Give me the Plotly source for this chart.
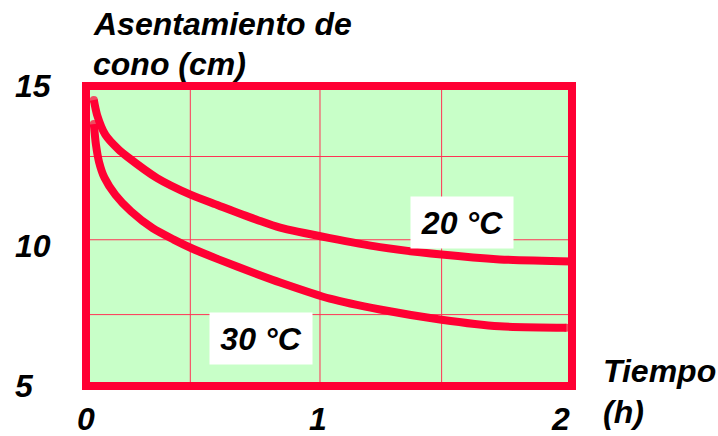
import plotly.graph_objects as go

# ---- data ----
t20 = [0.033, 0.047, 0.082, 0.138, 0.173, 0.300, 0.443, 0.559, 0.728, 0.819, 1.029, 1.240, 1.500, 1.745, 2.053]
s20 = [14.53, 14.03, 13.37, 12.88, 12.65, 11.93, 11.37, 11.02, 10.52, 10.28, 9.93, 9.63, 9.38, 9.22, 9.15]
t30 = [0.033, 0.042, 0.055, 0.078, 0.124, 0.190, 0.281, 0.370, 0.443, 0.559, 0.728, 0.819, 1.029, 1.240, 1.500, 1.745, 2.026]
s30 = [13.73, 13.04, 12.47, 11.94, 11.37, 10.82, 10.26, 9.88, 9.60, 9.22, 8.71, 8.45, 7.91, 7.55, 7.21, 6.99, 6.94]
x_ticks = [0, 1, 2]
y_ticks = [15, 10, 5]
grid_x = [0.44, 0.987, 1.50]
grid_y = [12.65, 9.875, 7.38]
series_labels = ["20 °C", "30 °C"]
label_pos = [(1.585, 10.46), (0.737, 6.58)]
y_title = ["Asentamiento de", "cono (cm)"]
x_title = ["Tiempo", "(h)"]

RED = "#ff0033"
GRID = "#ff3355"
GREEN = "#c8ffc8"
FONT = dict(family="Liberation Sans, Arial, sans-serif", size=32, color="black",
            weight="bold", style="italic")

fig = go.Figure()
for t, s in [(t20, s20), (t30, s30)]:
    sizes = [8] + [0] * (len(t) - 2) + [8]
    fig.add_trace(go.Scatter(x=t, y=s, mode="lines+markers",
                             line=dict(color=RED, width=8, shape="spline", smoothing=0.7),
                             marker=dict(color=RED, size=sizes, line=dict(width=0)),
                             cliponaxis=False, showlegend=False, hoverinfo="skip"))

shapes = []
for gx in grid_x:
    shapes.append(dict(type="line", xref="x", yref="paper", x0=gx, x1=gx, y0=0, y1=1,
                       line=dict(color=GRID, width=1), layer="below"))
for gy in grid_y:
    shapes.append(dict(type="line", xref="paper", yref="y", x0=0, x1=1, y0=gy, y1=gy,
                       line=dict(color=GRID, width=1), layer="below"))
shapes.append(dict(type="rect", xref="paper", yref="paper", x0=0, x1=1, y0=0, y1=1,
                   line=dict(color=RED, width=8), layer="below"))

ann = []
for (lx, ly), txt in zip(label_pos, series_labels):
    ann.append(dict(x=lx, y=ly, xref="x", yref="y", text=txt, showarrow=False, font=FONT,
                    bgcolor="white", width=102, height=51, borderpad=0, align="center"))
xshift_ticks = [0, -5, 0]
for v, sh in zip(x_ticks, xshift_ticks):
    ann.append(dict(x=v, y=-0.111, xref="x", yref="paper", text=str(v), showarrow=False,
                    font=FONT, xanchor="center", yanchor="middle", xshift=sh))
yshift_ticks = [0, -10, 0]
for v, sh in zip(y_ticks, yshift_ticks):
    ann.append(dict(x=-0.151, y=v, xref="paper", yref="y", text=str(v), showarrow=False,
                    font=FONT, xanchor="left", yanchor="middle", yshift=sh))
for txt, yp in zip(y_title, [1.206, 1.073]):
    ann.append(dict(x=0.0113, y=yp, xref="paper", yref="paper", text=txt, showarrow=False,
                    font=FONT, xanchor="left", yanchor="middle"))
for txt, yp in zip(x_title, [0.0516, -0.085]):
    ann.append(dict(x=1.0606, y=yp, xref="paper", yref="paper", text=txt, showarrow=False,
                    font=FONT, xanchor="left", yanchor="middle"))

fig.update_layout(
    width=718, height=436,
    margin=dict(l=85.5, r=145.5, t=86, b=49.5, pad=0),
    paper_bgcolor="white", plot_bgcolor=GREEN,
    xaxis=dict(range=[0, 2.05], showgrid=False, zeroline=False, showticklabels=False, ticks=""),
    yaxis=dict(range=[5, 15], showgrid=False, zeroline=False, showticklabels=False, ticks=""),
    shapes=shapes, annotations=ann,
)
fig.write_html("out.html", config={"displayModeBar": False},
               post_script="document.body.style.margin='0px';document.body.style.overflow='hidden';")
